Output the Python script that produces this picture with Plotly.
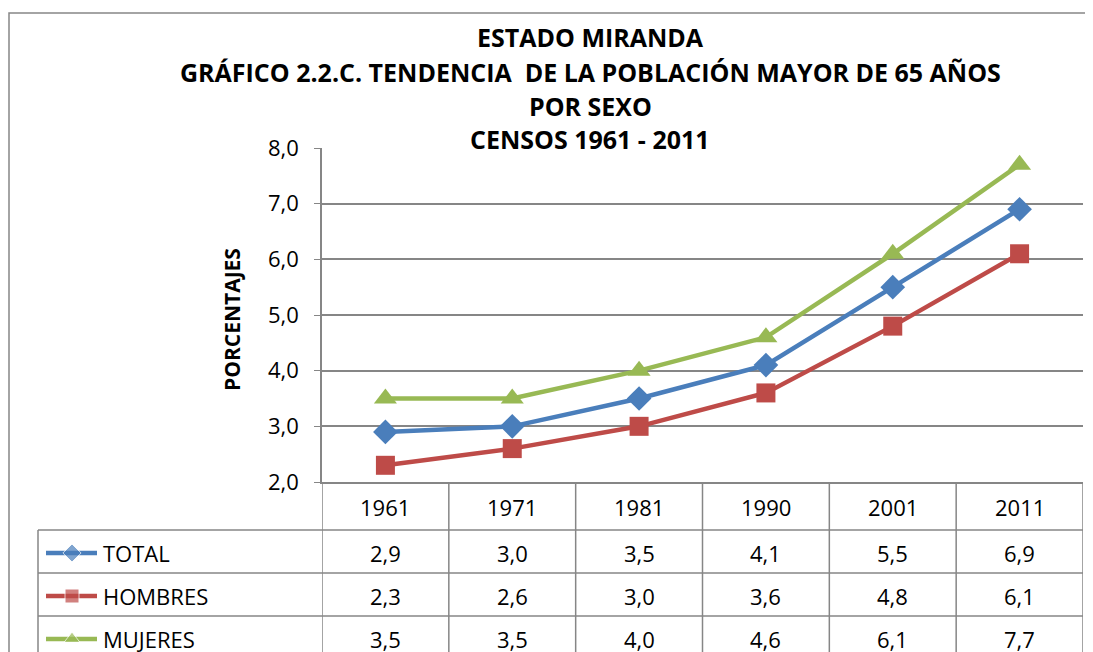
import plotly.graph_objects as go

# data
years = ['1961', '1971', '1981', '1990', '2001', '2011']
total = [2.9, 3.0, 3.5, 4.1, 5.5, 6.9]
hombres = [2.3, 2.6, 3.0, 3.6, 4.8, 6.1]
mujeres = [3.5, 3.5, 4.0, 4.6, 6.1, 7.7]

series_names = ['TOTAL', 'HOMBRES', 'MUJERES']
series_values = [total, hombres, mujeres]
series_colors = ['#4A7EBB', '#BE4B48', '#98B954']
series_symbols = ['diamond', 'square', 'triangle-up']
marker_sizes = [19, 19, 20]

title_lines = ['ESTADO MIRANDA',
               'GRÁFICO 2.2.C. TENDENCIA  DE LA POBLACIÓN MAYOR DE 65 AÑOS',
               'POR SEXO',
               'CENSOS 1961 - 2011']

W, H = 1093, 652
OFF = 8  # page body margin, the helper axis works in screen pixels
FONT = 'Open Sans'
GRID = '#868686'

fig = go.Figure()

for name, vals, col, sym, ms in zip(series_names, series_values, series_colors, series_symbols, marker_sizes):
    fig.add_trace(go.Scatter(x=years, y=vals, mode='lines+markers', name=name,
                             line=dict(color=col, width=4.5),
                             marker=dict(symbol=sym, size=ms, color=col),
                             cliponaxis=False, showlegend=False))

# table rows, in screen pixels
header_y = 507
row_lines = [482, 530, 573, 616, 680]
row_centers = [553, 596, 639]

for i, (name, col, sym) in enumerate(zip(series_names, series_colors, series_symbols)):
    cy = row_centers[i]
    fig.add_trace(go.Scatter(x=[46, 72, 97], y=[cy, cy, cy], mode='lines+markers',
                             xaxis='x2', yaxis='y2', showlegend=False, hoverinfo='skip',
                             line=dict(color=col, width=4.5),
                             marker=dict(symbol=sym, size=[0, 14, 0], color=col)))

shapes = []
# outer chart border
shapes.append(dict(type='rect', xref='x2', yref='y2', x0=9, x1=1120, y0=13, y1=700,
                   line=dict(color=GRID, width=1.5)))
# table grid
for ly in row_lines[1:]:
    shapes.append(dict(type='line', xref='x2', yref='y2', x0=38, x1=1083, y0=ly, y1=ly,
                       line=dict(color=GRID, width=1.5)))
shapes.append(dict(type='line', xref='x2', yref='y2', x0=38, x1=38, y0=530, y1=700,
                   line=dict(color=GRID, width=1.5)))
for i in range(len(years) + 1):
    shapes.append(dict(type='line', xref='x', yref='y2', x0=i - 0.5, x1=i - 0.5, y0=482, y1=700,
                       line=dict(color=GRID, width=1.5)))

annotations = []
title_y = [37, 72, 106, 139]
for t, ty in zip(title_lines, title_y):
    annotations.append(dict(text='<b>%s</b>' % t, xref='x2', yref='y2', x=590, y=ty,
                            showarrow=False, font=dict(family=FONT, size=25, color='black')))
annotations.append(dict(text='<b>PORCENTAJES</b>', xref='x2', yref='y2', x=232, y=320,
                        textangle=-90, showarrow=False,
                        font=dict(family=FONT, size=21, color='black')))
for i, yr in enumerate(years):
    annotations.append(dict(text=yr, xref='x', yref='y2', x=i, y=header_y, showarrow=False,
                            font=dict(family=FONT, size=22, color='black')))
for r, (name, vals) in enumerate(zip(series_names, series_values)):
    annotations.append(dict(text=name, xref='x2', yref='y2', x=101, y=row_centers[r],
                            xanchor='left', showarrow=False,
                            font=dict(family=FONT, size=22, color='black')))
    for i, v in enumerate(vals):
        annotations.append(dict(text=('%.1f' % v).replace('.', ','), xref='x', yref='y2',
                                x=i, y=row_centers[r], showarrow=False,
                                font=dict(family=FONT, size=22, color='black')))

fig.update_layout(
    width=W, height=H,
    margin=dict(l=0, r=0, t=0, b=0, autoexpand=False),
    paper_bgcolor='white', plot_bgcolor='rgba(0,0,0,0)',
    separators=',.',
    font=dict(family=FONT, size=22, color='black'),
    xaxis=dict(type='category', domain=[(322 - OFF) / W, (1083 - OFF) / W], range=[-0.5, 5.5],
               showticklabels=False, showgrid=False, zeroline=False,
               showline=True, linecolor=GRID, linewidth=1.5, ticks=''),
    yaxis=dict(domain=[(H + OFF - 482) / H, (H + OFF - 148) / H], range=[2, 8], dtick=1,
               tickformat='.1f', showgrid=True, gridcolor=GRID, gridwidth=1.5,
               zeroline=False, showline=True, linecolor=GRID, linewidth=1.5,
               ticks='outside', ticklen=6, tickcolor=GRID, ticklabelstandoff=11,
               tickfont=dict(family=FONT, size=22)),
    xaxis2=dict(domain=[0, 1], range=[OFF, W + OFF], visible=False, anchor='y2'),
    yaxis2=dict(domain=[0, 1], range=[H + OFF, OFF], visible=False, anchor='x2'),
    shapes=shapes,
    annotations=annotations,
)

fig.write_html('out.html')
